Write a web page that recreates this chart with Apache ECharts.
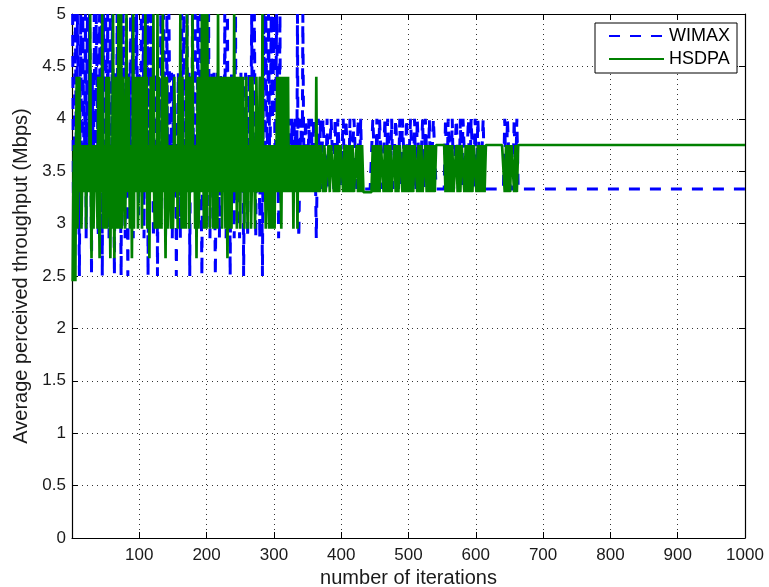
<!DOCTYPE html>
<html>
<head>
<meta charset="utf-8">
<script src="https://cdn.jsdelivr.net/npm/echarts@6/dist/echarts.min.js"></script>
<style>
html,body{margin:0;padding:0;background:#fff;}
#chart{width:769px;height:587px;}
</style>
</head>
<body>
<div id="chart"></div>
<script>
// Early phase: one value per iteration (iterations 1..370)
const earlyStart = 1, earlyStep = 1;
// Late phase: one value every 2 iterations (iterations 371..663)
const lateStart = 371, lateStep = 2;
const lastIteration = 1000;
const wimaxSteady = 3.33;
const hsdpaSteady = 3.75;

const wimaxEarly = [
  5, 3.33, 2.86, 4.44, 5, 4, 3.33, 5, 4.44, 3.33, 2.5, 4, 5, 3.64, 3.33, 5, 5, 3.33, 4, 5,
  2.86, 4.44, 5, 3.33, 3.64, 5, 5, 4, 2.5, 4.44, 4.44, 3.33, 5, 3.64, 3.33, 5, 5, 4, 2.86, 4.44,
  5, 3.33, 4, 5, 2.5, 4.44, 5, 3.64, 3.33, 5, 4.44, 3.33, 5, 4, 2.86, 4.44, 5, 3.33, 3.64, 5,
  5, 3.64, 2.5, 4, 4.44, 3.33, 5, 4, 3.33, 5, 5, 3.33, 2.5, 4.44, 4, 5, 5, 3.33, 2.86, 4.44,
  5, 3.33, 2.5, 4, 4.44, 3.33, 5, 4, 3.33, 5, 2.86, 4.44, 5, 3.33, 4, 5, 5, 3.64, 3.08, 4.44,
  4.44, 3.33, 5, 4, 3.33, 5, 2.86, 4.44, 5, 3.33, 4, 5, 2.5, 4, 5, 3.33, 3.64, 5, 5, 3.64,
  2.86, 4, 4.44, 3.33, 3.33, 4.44, 2.5, 3.64, 4, 3.33, 3.33, 5, 5, 3.33, 3.64, 5, 5, 4, 2.86, 3.64,
  5, 3.33, 4, 5, 5, 3.64, 3.33, 4.44, 2.86, 3.64, 4.44, 3.33, 3.33, 4, 2.5, 3.33, 4, 4.44, 3.33, 4,
  2.86, 4, 5, 3.33, 3.64, 5, 5, 3.64, 4, 4.44, 5, 3.33, 3.33, 4.44, 2.5, 4, 4.44, 3.33, 5, 4,
  3.33, 4.44, 5, 3.33, 2.86, 4, 5, 3.64, 3.64, 4.44, 5, 3.33, 2.5, 4, 5, 3.64, 4, 4.44, 5, 3.33,
  3.33, 4, 5, 3.64, 2.86, 3.64, 4, 4.44, 3.33, 4, 4.44, 3.33, 2.5, 3.33, 4, 4.44, 3.33, 4, 2.86, 3.64,
  4.44, 3.64, 3.33, 4, 4, 3.33, 5, 4, 2.86, 4.44, 5, 3.33, 3.64, 4, 2.5, 3.64, 4.44, 3.33, 3.33, 4,
  2.86, 3.64, 5, 3.33, 3.33, 4, 4, 3.33, 2.86, 4, 4.44, 3.64, 3.33, 4, 2.5, 3.33, 4, 4.44, 3.33, 4,
  2.86, 4, 4.44, 3.33, 3.64, 4, 5, 3.64, 3.33, 4.44, 5, 4, 2.86, 3.64, 4, 3.33, 3.33, 4, 2.86, 4.44,
  4.44, 3.33, 2.5, 4, 5, 3.64, 3.33, 5, 5, 3.64, 4, 5, 5, 3.33, 3.33, 5, 5, 4, 4.44, 5,
  5, 3.33, 3.33, 5, 5, 3.64, 2.86, 4, 5, 3.33, 4, 3.33, 4, 4, 3.33, 4, 4, 3.33, 3.33, 4,
  4, 3.33, 4, 4, 3.33, 3.33, 4, 3.33, 3.33, 4, 3.33, 4, 4, 3.33, 5, 3.33, 2.86, 3.33, 3.33, 4,
  4, 3.33, 5, 4, 3.33, 3.33, 4, 4, 4, 3.33, 3.33, 4, 4, 3.33, 3.33, 4, 3.33, 3.33, 4, 4,
  4, 3.33, 2.86, 3.33, 3.33, 4, 4, 3.33, 4, 3.33
];

const wimaxLate = [
  3.33, 4, 4, 3.33, 4, 3.33, 3.33, 4, 4, 3.33,
  4, 3.33, 4, 4, 3.33, 3.33, 4, 3.33, 4, 4,
  3.33, 4, 3.33, 3.33, 4, 4, 3.33, 4, 3.33, 4, 3.33,
  3.33, 3.33, 3.33, 3.33, 3.33, 3.33, 3.33,
  4, 4, 3.33, 4, 3.33, 4, 4, 3.33, 3.33, 4,
  3.33, 4, 4, 3.33, 4, 3.33, 3.33, 4, 4, 3.33,
  4, 3.33, 4, 4, 3.33, 4, 3.33, 3.33, 4, 4,
  3.33, 4, 3.33, 4, 4, 3.33, 3.33, 4, 3.33, 4,
  4, 3.33, 4, 3.33, 3.33, 4, 4, 3.33,
  3.33, 3.33, 3.33, 3.33, 3.33, 3.33,
  4, 3.33, 4, 4, 3.33, 4, 3.33, 3.33, 4, 4,
  3.33, 4, 3.33, 4, 4, 3.33, 3.33, 4, 3.33, 4,
  4, 3.33, 4, 3.33, 4, 4, 3.33, 3.33, 4, 3.33,
  3.33, 3.33, 3.33, 3.33, 3.33, 3.33, 3.33, 3.33, 3.33, 3.33, 3.33, 3.33, 3.33, 3.33,
  4, 3.33, 4, 4, 3.33, 3.33, 3.33, 4, 3.33, 4, 3.33
];

const hsdpaEarly = [
  2.45, 3.3, 3.75, 2.95, 2.45, 3.75, 4.4, 2.95, 3.3, 3.75, 4.4, 3.3, 3.75, 2.95, 2.95, 3.75, 3.75, 3.3, 3.3, 3.75,
  2.95, 3.75, 3.75, 3.3, 3.3, 3.75, 5, 3.3, 2.67, 3.75, 3.75, 2.95, 2.95, 3.75, 3.3, 3.75, 3.75, 2.95, 4.4, 3.3,
  2.67, 3.75, 4.4, 3.3, 5, 2.95, 3.3, 3.75, 2.95, 3.75, 4.4, 2.95, 3.3, 3.75, 4.4, 3.3, 2.67, 3.75, 2.95, 3.75,
  5, 3.3, 2.67, 3.75, 4.4, 3.3, 2.95, 3.75, 5, 2.95, 3.75, 3.3, 5, 2.95, 3.3, 4.4, 4.4, 3.3, 2.95, 3.75,
  5, 3.3, 3.3, 4.4, 4.4, 2.95, 2.95, 3.75, 2.67, 3.75, 5, 2.95, 4.4, 3.3, 3.3, 3.75, 4.4, 2.95, 2.95, 3.75,
  4.4, 3.3, 3.75, 2.95, 4.4, 3.3, 3.3, 4.4, 5, 3.3, 4.4, 2.95, 2.95, 3.75, 2.67, 3.75, 4.4, 3.3, 3.3, 3.75,
  5, 3.3, 2.95, 3.75, 3.75, 2.95, 5, 3.3, 4.4, 2.95, 3.3, 3.75, 2.95, 4.4, 5, 3.3, 4.4, 3.3, 2.67, 3.75,
  4.4, 2.95, 3.3, 3.75, 3.75, 3.3, 2.95, 3.75, 3.75, 2.95, 3.3, 4.4, 4.4, 3.3, 3.3, 3.75, 2.95, 3.75, 4.4, 3.3,
  5, 3.3, 2.95, 4.4, 4.4, 2.95, 3.3, 3.75, 2.95, 4.4, 5, 3.3, 4.4, 2.95, 3.3, 4.4, 4.4, 3.3, 5, 3.3,
  3.3, 3.75, 2.95, 3.75, 2.67, 3.75, 4.4, 2.95, 3.3, 4.4, 4.4, 3.3, 5, 3.3, 3.75, 2.95, 5, 3.3, 4.4, 2.95,
  5, 3.3, 3.3, 4.4, 2.95, 3.75, 4.4, 3.3, 3.75, 2.95, 4.4, 3.3, 2.95, 4.4, 4.4, 2.95, 5, 3.3, 4.4, 3.3,
  3.3, 4.4, 2.95, 3.75, 4.4, 3.3, 3.75, 2.95, 4.4, 3.3, 2.67, 3.75, 4.4, 2.95, 3.3, 4.4, 2.95, 3.75, 4.4, 3.3,
  5, 3.3, 3.3, 4.4, 2.95, 3.75, 4.4, 3.3, 3.75, 2.95, 4.4, 3.3, 3.3, 4.4, 4.4, 2.95, 3.75, 3.3, 4.4, 3.3,
  2.95, 3.75, 3.75, 3.3, 4.4, 2.95, 3.3, 4.4, 4.4, 3.3, 3.75, 2.95, 2.95, 4.4, 4.4, 3.3, 3.3, 3.75, 4.4, 3.3,
  3.75, 3.3, 5, 3.3, 3.3, 3.75, 3.75, 2.95, 2.95, 3.75, 3.75, 3.3, 2.95, 3.75, 3.3, 3.75, 2.95, 3.75, 3.75, 3.3,
  2.95, 3.75, 3.3, 3.75, 4.4, 3.3, 3.75, 3.3, 4.4, 3.3, 2.95, 3.75, 4.4, 3.3, 3.3, 3.75, 4.4, 3.3, 3.75, 3.3,
  4.4, 3.3, 3.3, 3.75, 3.75, 3.3, 3.3, 3.75, 2.95, 3.75, 3.75, 3.3, 3.3, 3.75, 2.95, 3.75, 3.75, 3.3, 3.3, 3.75,
  3.75, 3.3, 3.3, 3.75, 3.75, 3.3, 3.3, 3.75, 3.75, 3.3, 3.3, 3.75, 3.75, 3.3, 3.3, 3.75, 3.75, 3.3, 3.3, 3.75,
  3.75, 3.3, 4.4, 3.3, 3.3, 3.75, 3.75, 3.3, 3.3, 3.75
];

const hsdpaLate = [
  3.75, 3.3, 3.75, 3.3, 3.3, 3.75, 3.3, 3.75, 3.75, 3.3,
  3.75, 3.3, 3.75, 3.3, 3.75, 3.75, 3.3, 3.75, 3.3, 3.75,
  3.3, 3.75, 3.3, 3.75, 3.3, 3.3, 3.75, 3.3, 3.75, 3.3, 3.75,
  3.3, 3.3, 3.3, 3.3, 3.3, 3.3, 3.3,
  3.75, 3.3, 3.75, 3.3, 3.75, 3.3, 3.75, 3.75, 3.3, 3.75,
  3.3, 3.75, 3.3, 3.75, 3.3, 3.3, 3.75, 3.3, 3.75, 3.3,
  3.75, 3.75, 3.3, 3.75, 3.3, 3.75, 3.3, 3.75, 3.3, 3.75,
  3.3, 3.75, 3.75, 3.3, 3.75, 3.3, 3.75, 3.3, 3.3, 3.75,
  3.3, 3.75, 3.3, 3.75, 3.3, 3.75, 3.3, 3.75,
  3.75, 3.75, 3.75, 3.75, 3.75, 3.75,
  3.3, 3.75, 3.3, 3.75, 3.3, 3.75, 3.3, 3.3, 3.75, 3.3,
  3.75, 3.3, 3.75, 3.75, 3.3, 3.75, 3.3, 3.75, 3.3, 3.75,
  3.3, 3.75, 3.75, 3.3, 3.75, 3.3, 3.75, 3.3, 3.75, 3.3,
  3.75, 3.75, 3.75, 3.75, 3.75, 3.75, 3.75, 3.75, 3.75, 3.75, 3.75, 3.75, 3.75, 3.75,
  3.3, 3.75, 3.3, 3.75, 3.3, 3.75, 3.75, 3.3, 3.75, 3.3, 3.75
];

const seriesNames = ['WIMAX', 'HSDPA'];

function toPoints(early, late, steady) {
  const pts = early.map((v, i) => [earlyStart + i * earlyStep, v]);
  late.forEach((v, i) => pts.push([lateStart + i * lateStep, v]));
  pts.push([lastIteration, steady]);
  return pts;
}

const FONT = 'Liberation Sans, Arial, Helvetica, sans-serif';
const chart = echarts.init(document.getElementById('chart'), null, {renderer: 'canvas'});

const axisLineStyle = {color: '#000', width: 1.2};
const gridLine = {show: true, lineStyle: {type: [1, 4], color: '#333', width: 1}};

chart.setOption({
  animation: false,
  backgroundColor: '#fff',
  grid: {left: 72, right: 24, top: 14, bottom: 49, containLabel: false, outerBoundsMode: 'none'},
  legend: {
    orient: 'vertical',
    right: 32,
    top: 23,
    data: seriesNames,
    backgroundColor: '#fff',
    borderColor: '#000',
    borderWidth: 1,
    padding: [4, 7, 5, 13],
    itemGap: 5,
    itemWidth: 55,
    itemHeight: 14,
    itemStyle: {opacity: 0},
    textStyle: {fontFamily: FONT, fontSize: 18, color: '#000'},
    selectedMode: false
  },
  xAxis: [{
    type: 'value', min: 0, max: 1000, interval: 100, position: 'bottom',
    axisLine: {show: true, onZero: false, lineStyle: axisLineStyle},
    axisTick: {show: true, inside: true, length: 6, lineStyle: {color: '#000'}},
    axisLabel: {fontFamily: FONT, fontSize: 17, color: '#1a1a1a', margin: 9,
      formatter: v => (v === 0 ? '' : String(v))},
    splitLine: gridLine,
    name: 'number of iterations', nameLocation: 'middle', nameGap: 30,
    nameTextStyle: {fontFamily: FONT, fontSize: 20, color: '#1a1a1a'}
  }, {
    type: 'value', min: 0, max: 1000, interval: 100, position: 'top',
    axisLine: {show: true, onZero: false, lineStyle: axisLineStyle},
    axisTick: {show: true, inside: true, length: 6, lineStyle: {color: '#000'}},
    axisLabel: {show: false}, splitLine: {show: false}
  }],
  yAxis: [{
    type: 'value', min: 0, max: 5, interval: 0.5, position: 'left',
    axisLine: {show: true, onZero: false, lineStyle: axisLineStyle},
    axisTick: {show: true, inside: true, length: 6, lineStyle: {color: '#000'}},
    axisLabel: {fontFamily: FONT, fontSize: 17, color: '#1a1a1a', margin: 6},
    splitLine: gridLine,
    name: 'Average perceived throughput (Mbps)', nameLocation: 'middle', nameGap: 39,
    nameTextStyle: {fontFamily: FONT, fontSize: 20, color: '#1a1a1a'}
  }, {
    type: 'value', min: 0, max: 5, interval: 0.5, position: 'right',
    axisLine: {show: true, onZero: false, lineStyle: axisLineStyle},
    axisTick: {show: true, inside: true, length: 6, lineStyle: {color: '#000'}},
    axisLabel: {show: false}, splitLine: {show: false}
  }],
  series: [{
    name: seriesNames[0], type: 'line', xAxisIndex: 0, yAxisIndex: 0,
    data: toPoints(wimaxEarly, wimaxLate, wimaxSteady),
    showSymbol: false, symbol: 'none', sampling: null, clip: true,
    color: '#0000ff',
    lineStyle: {color: '#0000ff', width: 3, type: [11, 10]},
    z: 2
  }, {
    name: seriesNames[1], type: 'line', xAxisIndex: 0, yAxisIndex: 0,
    data: toPoints(hsdpaEarly, hsdpaLate, hsdpaSteady),
    showSymbol: false, symbol: 'none', sampling: null, clip: true,
    color: '#008000',
    lineStyle: {color: '#008000', width: 2.7},
    z: 3
  }]
});
</script>
</body>
</html>
